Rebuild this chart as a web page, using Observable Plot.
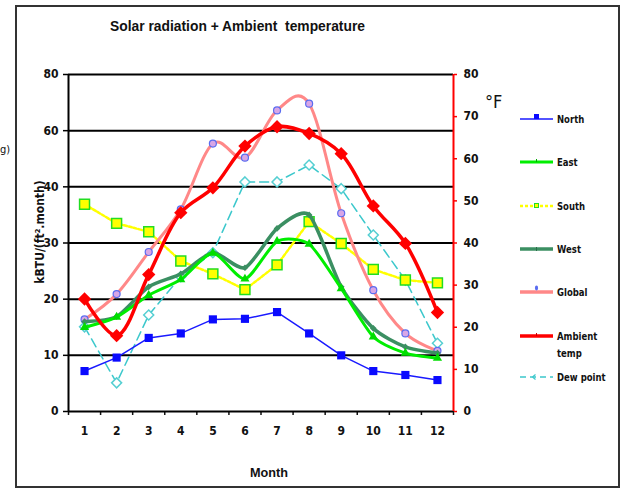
<!DOCTYPE html>
<html><head><meta charset="utf-8">
<script src="https://cdn.jsdelivr.net/npm/d3@7"></script>
<script src="https://cdn.jsdelivr.net/npm/@observablehq/plot@0.6"></script>
<style>
body{margin:0;background:#fff;}
#wrap{position:relative;width:625px;height:491px;overflow:hidden;font-family:"Liberation Sans Narrow","Arial Narrow","DejaVu Sans Condensed",sans-serif;}
#frame{position:absolute;left:15px;top:5px;width:605px;height:483px;border:2px solid #333;box-sizing:border-box;}
.t{position:absolute;white-space:nowrap;color:#111;}
#chart,#legend{position:absolute;left:0;top:0;}
</style></head>
<body>
<div id="wrap">
  <div id="frame"></div>
  <div class="t" style="left:0px;top:143px;font-size:11px;">g)</div>
  <div class="t" id="title" style="left:110px;top:17px;font-size:15px;font-weight:bold;font-family:'Liberation Sans',Arial,sans-serif;transform-origin:0 0;">Solar radiation + Ambient&nbsp; temperature</div>
  <div class="t" style="left:40px;top:232px;font-size:12px;font-weight:bold;transform:translate(-50%,-50%) rotate(-90deg);">kBTU/(ft².month)</div>
  <div class="t" style="left:485px;top:91px;font-size:18px;">°F</div>
  <div class="t" id="month" style="left:250px;top:465px;font-size:13px;font-weight:bold;font-family:'Liberation Sans',Arial,sans-serif;transform-origin:0 0;">Month</div>
  <div id="chart"></div>
  <svg id="legend" width="625" height="491"></svg>
</div>
<script>
// ---- data ----
const months = [1,2,3,4,5,6,7,8,9,10,11,12];
const north  = [7.2, 9.6, 13.1, 13.9, 16.4, 16.5, 17.7, 13.9, 10.0, 7.2, 6.5, 5.6];
const east   = [15.0, 16.8, 20.7, 23.5, 28.2, 23.6, 30.3, 29.8, 21.9, 13.3, 10.4, 9.5];
const south  = [36.9, 33.5, 32.0, 26.8, 24.5, 21.7, 26.1, 33.8, 29.9, 25.3, 23.4, 22.9];
const west   = [16.0, 16.9, 22.2, 24.5, 28.3, 25.6, 32.6, 35.0, 22.2, 14.8, 11.5, 10.4];
const global = [16.4, 20.9, 28.4, 36.0, 47.7, 45.2, 53.6, 54.8, 35.3, 21.6, 13.9, 10.8];
const ambientF = [26.7, 18.0, 32.5, 47.2, 53.1, 63.0, 67.6, 66.0, 61.2, 48.8, 39.9, 23.5];
const dewF     = [20.1, 6.8, 22.9, 32.0, 37.7, 54.5, 54.5, 58.5, 52.9, 41.9, 31.2, 16.2];
const leftTicks = [0, 10, 20, 30, 40, 50, 60];
const leftTickLabels = ["0", "10", "20", "30", "40", "60", "80"];
const rightTicksF = [0, 10, 20, 30, 40, 50, 60, 70, 80];
const seriesNames = ["North", "East", "South", "West", "Global", "Ambient temp", "Dew point"];

// °F axis (0-80) shares the plot height with the left axis (0-60)
const F = 60 / 80;
const rows = (vals, k = 1) => vals.map((v, i) => ({month: months[i], v: v * k}));
const boundaries = d3.range(0.5, 13, 1);

const font = '"Liberation Sans Narrow","Arial Narrow","DejaVu Sans Condensed",sans-serif';

// narrow the Arial-like texts to mimic Arial Narrow
function fit(id, w) {
  const el = document.getElementById(id);
  const cw = el.getBoundingClientRect().width;
  el.style.transform = `scaleX(${w / cw})`;
}
fit("title", 255);
fit("month", 38);

const chart = Plot.plot({
  width: 625, height: 491,
  marginLeft: 68, marginRight: 172, marginTop: 74, marginBottom: 80,
  x: {domain: [0.5, 12.5]},
  y: {domain: [0, 60]},
  style: {fontFamily: font, fontSize: "12px", fontWeight: "bold", background: "transparent", color: "#111"},
  marks: [
    Plot.ruleY(leftTicks.slice(1), {x1: 0.5, x2: 12.5, stroke: "#000", strokeWidth: 2}),
    Plot.axisY({ticks: leftTicks, tickFormat: (d, i) => leftTickLabels[i], tickSize: 5, tickPadding: 5, label: null, stroke: "#000", strokeWidth: 1.5}),
    Plot.axisX({ticks: boundaries, tickFormat: () => "", tickSize: 4, label: null, strokeWidth: 1.5}),
    Plot.axisX({ticks: months, tickSize: 0, tickPadding: 15, label: null}),
    Plot.axisY({anchor: "right", ticks: rightTicksF.map(d => d * F), tickFormat: (d, i) => rightTicksF[i], tickSize: 3, tickPadding: 7, label: null, stroke: "red", strokeWidth: 1.5, fill: "#111"}),
    Plot.ruleX([0.5], {stroke: "#000", strokeWidth: 2}),
    Plot.ruleY([0], {x1: 0.5, x2: 12.5, stroke: "#000", strokeWidth: 2}),
    Plot.ruleX([12.5], {stroke: "red", strokeWidth: 2}),

    // Dew point (°F)
    Plot.line(rows(dewF, F), {x: "month", y: "v", stroke: "#3cc8cc", strokeWidth: 1.5, strokeDasharray: "9,5"}),
    Plot.dot(rows(dewF, F), {x: "month", y: "v", symbol: "diamond2", r: 4.5, stroke: "#55cfd2", strokeWidth: 1.5, fill: "white"}),
    // South
    Plot.line(rows(south), {x: "month", y: "v", stroke: "#ffff00", strokeWidth: 2.5, strokeDasharray: "3,2"}),
    Plot.dot(rows(south), {x: "month", y: "v", symbol: "square", r: 5.6, fill: "#ffff00", stroke: "#22dd22", strokeWidth: 1.5}),
    // Global
    Plot.line(rows(global), {x: "month", y: "v", stroke: "#ff8888", strokeWidth: 3, curve: "cardinal", tension: 0}),
    Plot.dot(rows(global), {x: "month", y: "v", r: 3.5, fill: "#d8a6e6", stroke: "#5a6cf0", strokeWidth: 1.2}),
    // North
    Plot.line(rows(north), {x: "month", y: "v", stroke: "#1a1aff", strokeWidth: 1.5}),
    Plot.dot(rows(north), {x: "month", y: "v", symbol: "square", r: 4.6, fill: "#0a0aff"}),
    // West
    Plot.line(rows(west), {x: "month", y: "v", stroke: "#3b8f62", strokeWidth: 3.5, curve: "cardinal", tension: 0.3}),
    Plot.dot(rows(west), {x: "month", y: "v", symbol: "diamond2", r: 3, fill: "#3b8f62"}),
    // East
    Plot.line(rows(east), {x: "month", y: "v", stroke: "#00ee00", strokeWidth: 3, curve: "cardinal", tension: 0.3}),
    Plot.dot(rows(east), {x: "month", y: "v", symbol: "triangle", r: 3.4, fill: "#00dd00"}),
    // Ambient temp (°F)
    Plot.line(rows(ambientF, F), {x: "month", y: "v", stroke: "#ff0000", strokeWidth: 3.5, curve: "catmull-rom"}),
    Plot.dot(rows(ambientF, F), {x: "month", y: "v", symbol: "diamond2", r: 6, fill: "#ff0000"})
  ]
});
document.getElementById("chart").appendChild(chart);

// ---- legend ----
const lg = d3.select("#legend").style("font-family", font).style("font-size", "11px").style("font-weight", "bold");
const legendY = [119, 162, 206, 249, 292, 336, 377];
const styles = [
  {stroke: "#1a1aff", w: 1.5},
  {stroke: "#00ee00", w: 3},
  {stroke: "#ffff00", w: 2.5, dash: "3,2"},
  {stroke: "#3b8f62", w: 3.5},
  {stroke: "#ff8888", w: 3.5},
  {stroke: "#ff0000", w: 3.5},
  {stroke: "#3cc8cc", w: 1.5, dash: "6,4"}
];
seriesNames.forEach((name, i) => {
  const y = legendY[i], s = styles[i];
  lg.append("line").attr("x1", 520).attr("x2", 553).attr("y1", y).attr("y2", y)
    .attr("stroke", s.stroke).attr("stroke-width", s.w).attr("stroke-dasharray", s.dash || null);
  const cx = 536.5;
  if (i === 0) lg.append("rect").attr("x", cx - 2.5).attr("y", y - 5).attr("width", 5).attr("height", 5).attr("fill", "#0a0aff");
  if (i === 1) lg.append("line").attr("x1", cx).attr("x2", cx).attr("y1", y - 3).attr("y2", y).attr("stroke", "#00aa00").attr("stroke-width", 1);
  if (i === 2) lg.append("rect").attr("x", cx - 2).attr("y", y - 2.5).attr("width", 4).attr("height", 4).attr("fill", "#ffff00").attr("stroke", "#22dd22").attr("stroke-width", 1);
  if (i === 3) lg.append("line").attr("x1", cx).attr("x2", cx).attr("y1", y - 2).attr("y2", y + 2).attr("stroke", "#2a6f4a").attr("stroke-width", 1);
  if (i === 4) lg.append("ellipse").attr("cx", cx).attr("cy", y - 4).attr("rx", 1.6).attr("ry", 2.4).attr("fill", "#5a6cf0");
  if (i === 5) lg.append("line").attr("x1", cx).attr("x2", cx).attr("y1", y - 3).attr("y2", y).attr("stroke", "#cc0000").attr("stroke-width", 1);
  if (i === 6) lg.append("path").attr("d", `M${cx - 4},${y}l3,-2.5M${cx - 4},${y}l3,2.5`).attr("stroke", "#3cc8cc").attr("fill", "none").attr("stroke-width", 1.2);
  const parts = name === "Ambient temp" ? ["Ambient", "temp"] : [name];
  parts.forEach((p, j) => {
    lg.append("text").attr("transform", `translate(557,${y + 4 + j * 17}) scale(0.86,1)`).attr("fill", "#111").text(p);
  });
});
</script>
</body></html>
